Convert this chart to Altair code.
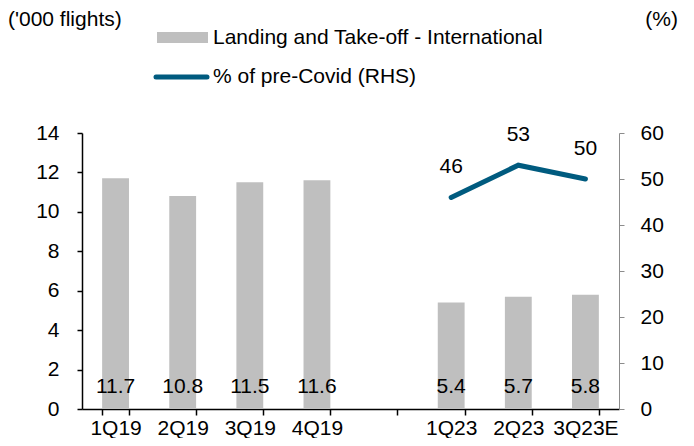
import altair as alt
import pandas as pd

# ---- data ----
categories = ["1Q19", "2Q19", "3Q19", "4Q19", " ", "1Q23", "2Q23", "3Q23E"]
flights = [11.7, 10.8, 11.5, 11.6, None, 5.4, 5.7, 5.8]
pct_categories = ["1Q23", "2Q23", "3Q23E"]
pct_values = [46, 53, 50]
left_ticks = [0, 2, 4, 6, 8, 10, 12, 14]
right_ticks = [0, 10, 20, 30, 40, 50, 60]

FONT = "Liberation Sans"
FS = 21
W, H = 537, 276
BAR_COLOR = "#BFBFBF"
LINE_COLOR = "#005B7F"

bars_df = pd.DataFrame({"q": categories, "v": flights})
line_df = pd.DataFrame({"q": pct_categories, "p": pct_values})
one = pd.DataFrame({"k": [0]})

x_enc = alt.X(
    "q:N",
    scale=alt.Scale(domain=categories, paddingInner=0.6, paddingOuter=0.3),
    axis=alt.Axis(
        title=None, labelAngle=0, tickBand="extent", domainColor="black",
        tickColor="black", tickSize=6, domainWidth=1.5, tickWidth=1.5,
        labelFontSize=FS, labelColor="black", labelFont=FONT, labelPadding=2,
    ),
)

bars = alt.Chart(bars_df).mark_bar(color=BAR_COLOR).encode(
    x=x_enc,
    y=alt.Y(
        "v:Q",
        scale=alt.Scale(domain=[0, 14], nice=False),
        axis=alt.Axis(
            title=None, values=left_ticks, grid=False, domainColor="black",
            tickColor="black", tickSize=5, domainWidth=1.5, tickWidth=1.5,
            labelFontSize=FS, labelColor="black", labelFont=FONT, labelPadding=18,
        ),
    ),
)

bar_text = alt.Chart(bars_df).transform_filter("datum.v != null").mark_text(
    font=FONT, fontSize=FS, color="black", baseline="middle"
).encode(
    x=x_enc,
    y=alt.value(H - 22),
    text=alt.Text("v:Q", format=".1f"),
)

left = alt.layer(bars, bar_text)

y_right = alt.Y(
    "p:Q",
    scale=alt.Scale(domain=[0, 60], nice=False),
    axis=alt.Axis(
        title=None, orient="right", values=right_ticks, grid=False,
        domainColor="#8C8C8C", tickColor="#8C8C8C", tickSize=5,
        labelFontSize=FS, labelColor="black", labelFont=FONT, labelPadding=16,
    ),
)

line = alt.Chart(line_df).mark_line(
    color=LINE_COLOR, strokeWidth=5, strokeCap="round"
).encode(x=x_enc, y=y_right)

line_text = alt.Chart(line_df).mark_text(
    font=FONT, fontSize=FS, color="black", dy=-30, baseline="middle"
).encode(x=x_enc, y=y_right, text=alt.Text("p:Q"))

right = alt.layer(line, line_text)

# ---- titles and legend ----
def label(txt, xv, yv, align="left"):
    return alt.Chart(one).mark_text(
        font=FONT, fontSize=FS, color="black", align=align, baseline="middle"
    ).encode(x=alt.value(xv), y=alt.value(yv), text=alt.value(txt))

left_title = label("('000 flights)", -74, -113)
right_title = label("(%)", 596, -113, align="right")

leg_rect = alt.Chart(one).mark_rect(color=BAR_COLOR).encode(
    x=alt.value(75), x2=alt.value(126), y=alt.value(-101), y2=alt.value(-90)
)
leg_rule = alt.Chart(one).mark_rule(
    color=LINE_COLOR, strokeWidth=5, strokeCap="round"
).encode(x=alt.value(74), x2=alt.value(125), y=alt.value(-56))
leg_t1 = label("Landing and Take-off - International", 131, -95)
leg_t2 = label("% of pre-Covid (RHS)", 131, -56)

deco = alt.layer(left_title, right_title, leg_rect, leg_rule, leg_t1, leg_t2)

chart = alt.layer(left, right, deco).resolve_scale(y="independent").properties(
    width=W,
    height=H,
    autosize=alt.AutoSizeParams(type="none"),
    padding={"left": 74, "top": 125, "right": 67, "bottom": 29},
).configure_view(stroke=None).configure_axis(grid=False)

chart.save("out.html", embed_options={"renderer": "svg", "actions": False})
